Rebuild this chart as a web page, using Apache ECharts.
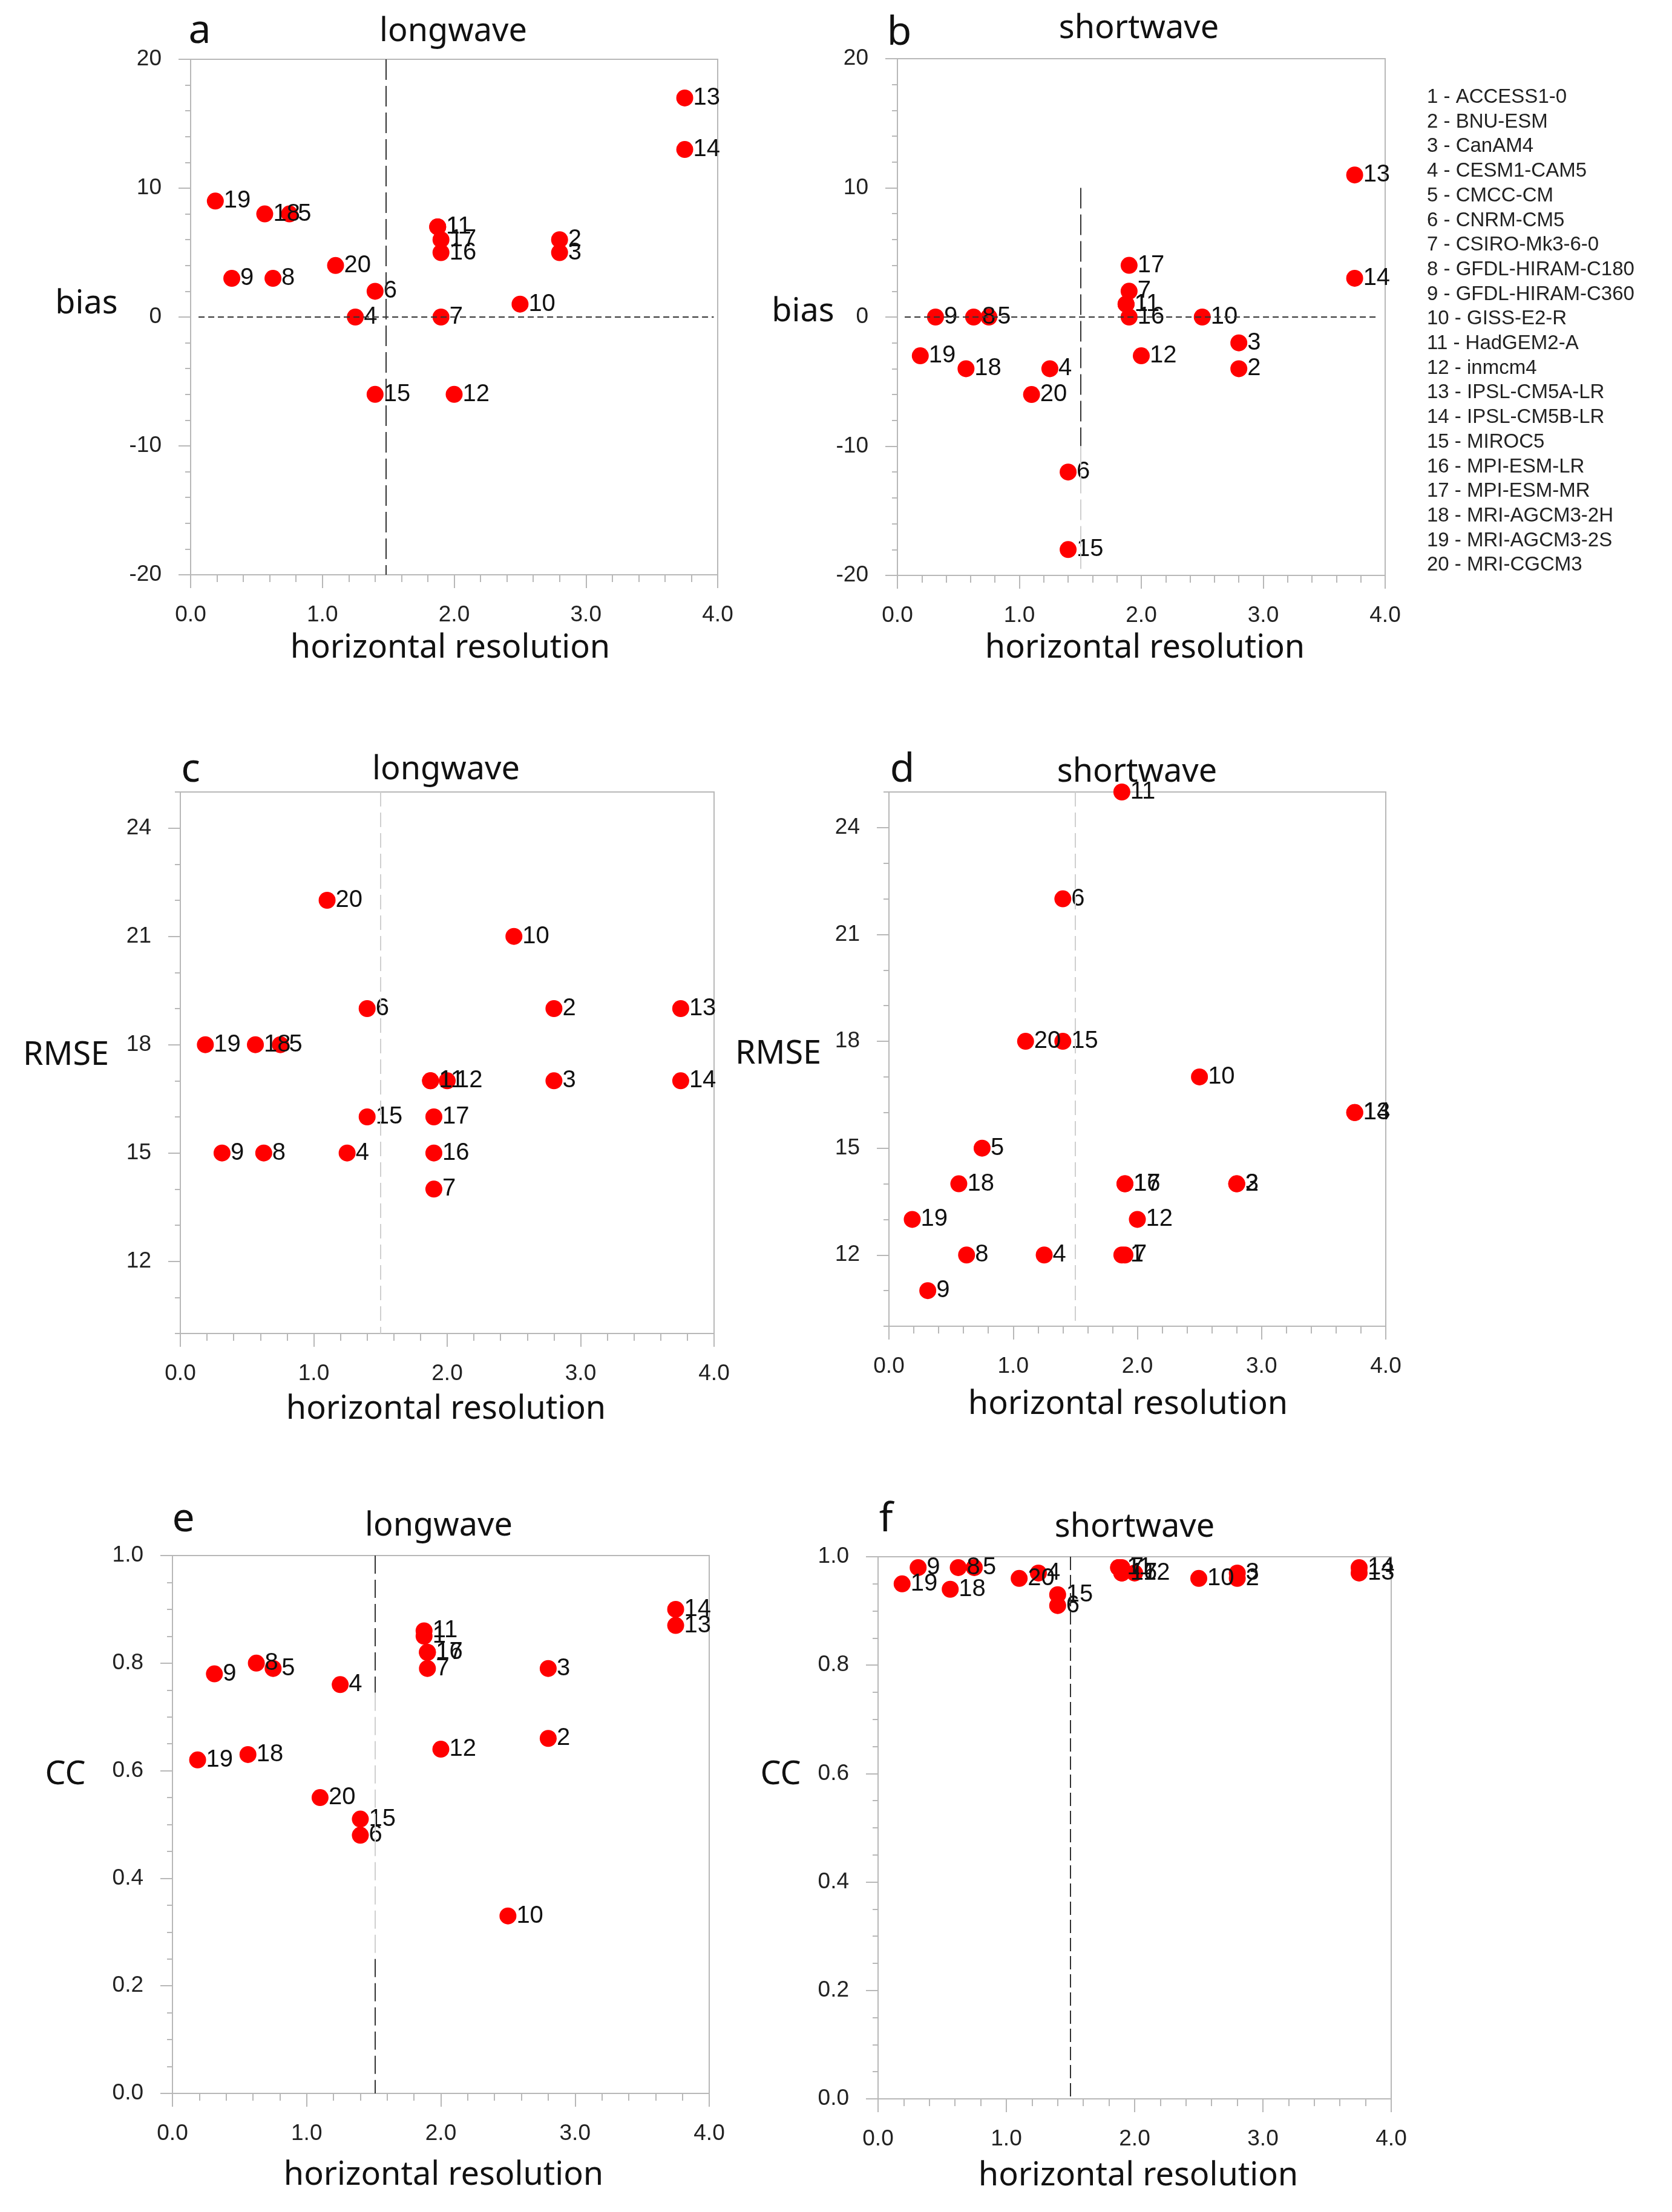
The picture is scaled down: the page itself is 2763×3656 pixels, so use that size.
<!DOCTYPE html>
<html lang="en">
  <head>
    <meta charset="UTF-8" />
    <script
      type="text/javascript"
      src="https://cdn.jsdelivr.net/npm/echarts@6.0.0/dist/echarts.min.js"
    ></script>
    <style>
      html,
      body {
        margin: 0;
        overflow: hidden;
        background: #fff;
      }
      #viewport {
        position: absolute;
        left: 0px;
        top: 0px;
        right: 0px;
        bottom: 0px;
      }
    </style>
  </head>
  <body>
    <div id="viewport"></div>
    <script>
      // models, numbered 1..20 in the legend and on the points
      var models = [
        'ACCESS1-0', 'BNU-ESM', 'CanAM4', 'CESM1-CAM5', 'CMCC-CM',
        'CNRM-CM5', 'CSIRO-Mk3-6-0', 'GFDL-HIRAM-C180', 'GFDL-HIRAM-C360', 'GISS-E2-R',
        'HadGEM2-A', 'inmcm4', 'IPSL-CM5A-LR', 'IPSL-CM5B-LR', 'MIROC5',
        'MPI-ESM-LR', 'MPI-ESM-MR', 'MRI-AGCM3-2H', 'MRI-AGCM3-2S', 'MRI-CGCM3'
      ];
      // horizontal resolution (x of every panel)
      var resolution = [
        1.875, 2.8, 2.8, 1.25, 0.75, 1.4, 1.9, 0.625, 0.3125, 2.5,
        1.875, 2.0, 3.75, 3.75, 1.4, 1.9, 1.9, 0.5625, 0.1875, 1.1
      ];
      // a / b
      var biasLW = [7, 6, 5, 0, 8, 2, 0, 3, 3, 1, 7, -6, 17, 13, -6, 5, 6, 8, 9, 4];
      var biasSW = [1, -4, -2, -4, 0, -12, 2, 0, 0, 0, 1, -3, 11, 3, -18, 0, 4, -4, -3, -6];
      // c / d
      var rmseLW = [17, 19, 17, 15, 18, 19, 14, 15, 15, 21, 17, 17, 19, 17, 16, 15, 16, 18, 18, 22];
      var rmseSW = [12, 14, 14, 12, 15, 22, 12, 12, 11, 17, 25, 13, 16, 16, 18, 14, 14, 14, 13, 18];
      // e / f
      var ccLW = [0.85, 0.66, 0.79, 0.76, 0.79, 0.48, 0.79, 0.8, 0.78, 0.33,
                  0.86, 0.64, 0.87, 0.9, 0.51, 0.82, 0.82, 0.63, 0.62, 0.55];
      var ccSW = [0.98, 0.96, 0.97, 0.97, 0.98, 0.91, 0.98, 0.98, 0.98, 0.96,
                  0.98, 0.97, 0.97, 0.98, 0.93, 0.97, 0.97, 0.94, 0.95, 0.96];
      // tick labels of the RMSE axes
      var rmseTicks = [12, 15, 18, 21, 24];

      var DARK = '#333';
      var LIGHT = '#cfcfcf';
      var AXIS = '#b8b8b8';
      var NUM_FONT = 'Liberation Sans';
      var TXT_FONT = 'Noto Sans';

      var panels = [
        {
          letter: 'a', title: 'longwave', yName: 'bias', values: biasLW, kind: 'bias',
          grid: { left: 315, top: 98, width: 871, height: 852 },
          pos: { letter: [330, 52], title: [749, 53], yName: [143, 503], xName: [744, 1072] },
          lines: [
            { from: [1.48, 20], to: [1.48, -20], color: DARK, dash: [34, 10] },
            { from: [0.06, 0], to: [3.97, 0], color: DARK, dash: [10, 6] }
          ]
        },
        {
          letter: 'b', title: 'shortwave', yName: 'bias', values: biasSW, kind: 'bias',
          grid: { left: 1483, top: 97, width: 806, height: 854 },
          pos: { letter: [1486, 55], title: [1882, 48], yName: [1327, 516], xName: [1892, 1072] },
          lines: [
            { from: [1.5, 10], to: [1.5, -10], color: DARK, dash: [34, 10] },
            { from: [1.5, -10], to: [1.5, -19.5], color: LIGHT, dash: [34, 10] },
            { from: [0.06, 0], to: [3.93, 0], color: DARK, dash: [10, 6] }
          ]
        },
        {
          letter: 'c', title: 'longwave', yName: 'RMSE', values: rmseLW, kind: 'rmse',
          grid: { left: 298, top: 1309, width: 882, height: 895 },
          pos: { letter: [315, 1273], title: [737, 1273], yName: [109, 1745], xName: [737, 2330] },
          lines: [{ from: [1.5, 25], to: [1.5, 10], color: LIGHT, dash: [24, 10] }]
        },
        {
          letter: 'd', title: 'shortwave', yName: 'RMSE', values: rmseSW, kind: 'rmse',
          grid: { left: 1469, top: 1309, width: 821, height: 883 },
          pos: { letter: [1491, 1273], title: [1879, 1277], yName: [1286, 1743], xName: [1864, 2322] },
          lines: [{ from: [1.5, 25], to: [1.5, 10], color: LIGHT, dash: [24, 10] }]
        },
        {
          letter: 'e', title: 'longwave', yName: 'CC', values: ccLW, kind: 'cc',
          grid: { left: 285, top: 2571, width: 887, height: 889 },
          pos: { letter: [303, 2512], title: [725, 2523], yName: [108, 2934], xName: [733, 3596] },
          lines: [
            { from: [1.51, 1], to: [1.51, 0.745], color: DARK, dash: [30, 10] },
            { from: [1.51, 0.745], to: [1.51, 0.25], color: LIGHT, dash: [30, 10] },
            { from: [1.51, 0.25], to: [1.51, 0], color: DARK, dash: [30, 10] }
          ]
        },
        {
          letter: 'f', title: 'shortwave', yName: 'CC', values: ccSW, kind: 'cc',
          grid: { left: 1451, top: 2573, width: 848, height: 896 },
          pos: { letter: [1464, 2512], title: [1875, 2525], yName: [1290, 2934], xName: [1881, 3597] },
          lines: [{ from: [1.5, 1], to: [1.5, 0], color: DARK, dash: [22, 8] }]
        }
      ];

      var grids = [], xAxes = [], yAxes = [], series = [], graphics = [];

      function numLabel(fmt) {
        return {
          fontFamily: NUM_FONT, fontSize: 37, color: '#222', margin: 48, formatter: fmt
        };
      }

      panels.forEach(function (p, gi) {
        grids.push(Object.assign({
          show: true, borderColor: AXIS, borderWidth: 2, backgroundColor: '#fff'
        }, p.grid));

        xAxes.push({
          gridIndex: gi, type: 'value', min: 0, max: 4, interval: 1,
          axisLine: { show: true, onZero: false, lineStyle: { color: AXIS, width: 2 } },
          axisTick: { show: true, inside: false, length: 22, lineStyle: { color: AXIS, width: 2 } },
          minorTick: { show: true, splitNumber: 5, length: 12, lineStyle: { color: AXIS, width: 2 } },
          splitLine: { show: false },
          axisLabel: numLabel(function (v) { return v.toFixed(1); })
        });

        var yi = yAxes.length;
        var base = {
          gridIndex: gi, type: 'value', position: 'left',
          axisLine: { show: true, onZero: false, lineStyle: { color: AXIS, width: 2 } },
          axisTick: { show: true, inside: false, length: 20, lineStyle: { color: AXIS, width: 2 } },
          splitLine: { show: false }
        };
        if (p.kind === 'bias') {
          yAxes.push(Object.assign({}, base, {
            min: -20, max: 20, interval: 10,
            minorTick: { show: true, splitNumber: 5, length: 9, lineStyle: { color: AXIS, width: 2 } },
            axisLabel: numLabel(function (v) { return String(v); })
          }));
        } else if (p.kind === 'cc') {
          yAxes.push(Object.assign({}, base, {
            min: 0, max: 1, interval: 0.2,
            minorTick: { show: true, splitNumber: 4, length: 9, lineStyle: { color: AXIS, width: 2 } },
            axisLabel: numLabel(function (v) { return v.toFixed(1); })
          }));
        } else {
          // major ticks and labels at 12,15,...,24 on a 10..25 range
          yAxes.push(Object.assign({}, base, {
            min: 10, max: 25,
            axisTick: {
              show: true, length: 20, customValues: rmseTicks,
              lineStyle: { color: AXIS, width: 2 }
            },
            axisLabel: Object.assign(numLabel(function (v) { return String(v); }), {
              customValues: rmseTicks
            })
          }));
          // minor ticks every 1
          yAxes.push({
            gridIndex: gi, type: 'value', position: 'left', offset: 0,
            min: 10, max: 25, interval: 1,
            axisLine: { show: false },
            axisTick: { show: true, length: 9, lineStyle: { color: AXIS, width: 2 } },
            axisLabel: { show: false },
            splitLine: { show: false }
          });
        }

        // reference dashed lines, under the points
        series.push({
          type: 'scatter', xAxisIndex: gi, yAxisIndex: yi, data: [], z: 1,
          silent: true,
          markLine: {
            silent: true, symbol: 'none', animation: false,
            label: { show: false },
            data: p.lines.map(function (l) {
              return [
                { coord: l.from, lineStyle: { color: l.color, type: l.dash, width: 2 } },
                { coord: l.to }
              ];
            })
          }
        });

        series.push({
          type: 'scatter', xAxisIndex: gi, yAxisIndex: yi, z: 3,
          symbol: 'circle', symbolSize: 28,
          itemStyle: { color: '#ff0000', opacity: 1 },
          label: {
            show: true, position: 'right', distance: 0,
            fontFamily: NUM_FONT, fontSize: 40, color: '#111',
            formatter: function (d) { return d.name; }
          },
          labelLayout: { hideOverlap: false },
          data: resolution.map(function (x, i) {
            return { name: String(i + 1), value: [x, p.values[i]] };
          })
        });

        function txt(xy, s, size, family) {
          graphics.push({
            type: 'text', x: xy[0], y: xy[1], silent: true,
            style: {
              text: s, fontFamily: family || TXT_FONT, fontSize: size, fill: '#111',
              textAlign: 'center', textVerticalAlign: 'middle'
            }
          });
        }
        txt(p.pos.letter, p.letter, 66);
        txt(p.pos.title, p.title, 54);
        txt(p.pos.yName, p.yName, 54);
        txt(p.pos.xName, 'horizontal resolution', 54);
      });

      // model legend on the right of panel b
      models.forEach(function (m, i) {
        graphics.push({
          type: 'text', x: 2358, y: 161 + i * 40.7, silent: true,
          style: {
            text: (i + 1) + ' - ' + m, fontFamily: NUM_FONT, fontSize: 33, fill: '#222',
            textAlign: 'left', textVerticalAlign: 'middle'
          }
        });
      });

      var myChart = echarts.init(document.getElementById('viewport'));
      myChart.setOption({
        animation: false,
        backgroundColor: '#fff',
        grid: grids,
        xAxis: xAxes,
        yAxis: yAxes,
        series: series,
        graphic: graphics
      });
    </script>
  </body>
</html>
